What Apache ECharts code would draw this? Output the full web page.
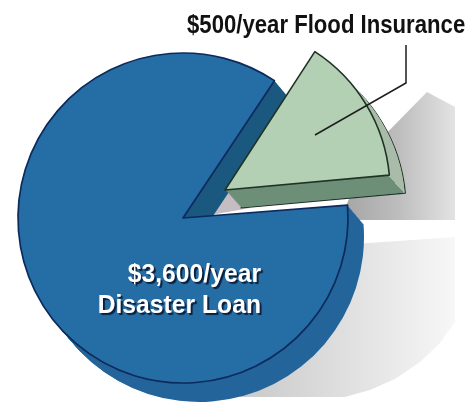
<!DOCTYPE html>
<html>
<head>
<meta charset="utf-8">
<style>html,body{margin:0;padding:0;background:#fff}#c{width:473px;height:403px}</style>
<script src="https://cdn.jsdelivr.net/npm/echarts@6/dist/echarts.min.js"></script>
</head>
<body>
<div id="c"></div>
<script>
// Printed amounts, used for the label text
var categories = ['Disaster Loan', 'Flood Insurance'];
var printedValues = [3600, 500];
// Share of the circle each slice occupies as drawn in the picture (percent)
var drawnShares = [85.6, 14.4];

var chart = echarts.init(document.getElementById('c'), null, {renderer: 'canvas'});
var DEPTH = 24, R = 165;

function money(v){ return '$' + v.toLocaleString('en-US') + '/year'; }
var hidden = {color: 'transparent', borderWidth: 0};

function pie(center, start, items, z){
  return {type: 'pie', silent: true, animation: false, radius: [0, R], center: center,
          startAngle: start, clockwise: true, label: {show: false}, labelLine: {show: false},
          emphasis: {disabled: true}, z: z, data: items};
}
function blue(style){
  return [{name: categories[0], value: drawnShares[0], itemStyle: style},
          {name: 'gap', value: drawnShares[1], itemStyle: hidden}];
}
function green(style){
  return [{name: categories[1], value: drawnShares[1], itemStyle: style},
          {name: 'gap', value: drawnShares[0], itemStyle: hidden}];
}
function linear(x, y, x2, y2, c1, c2, at){
  return {type: 'linear', global: true, x: x, y: y, x2: x2, y2: y2,
    colorStops: [{offset: 0, color: c1}, {offset: at, color: c1}, {offset: at, color: c2}, {offset: 1, color: c2}]};
}

var blueC = [183, 218], greenC = [225, 190], off = [16, 19];
var blueWall = linear(170, 54, 196, 382, '#1b5880', '#23659a', 0.5);
var greenWall = linear(297, 254, 477, 94, '#6d8f78', '#a9bca9', 0.5);
var series = [];
for (var i = DEPTH; i >= 1; i--) {
  var t = i / DEPTH;
  series.push(pie([blueC[0] + off[0] * t, blueC[1] + off[1] * t], 4.5,
    blue({color: blueWall, borderWidth: 0}), 2));
}
series.push(pie(blueC, 4.5, blue({color: '#256ea5', borderColor: '#0d2a5c', borderWidth: 1.7}), 3));
series.push(pie([greenC[0] + off[0], greenC[1] + off[1] - 1], 57,
  green({color: greenWall, borderColor: '#22352a', borderWidth: 1.2}), 4));
for (var j = DEPTH - 1; j >= 1; j--) {
  var u = j / DEPTH;
  series.push(pie([greenC[0] + off[0] * u, greenC[1] + (off[1] - 1) * u], 57,
    green({color: greenWall, borderWidth: 0}), 4));
}
series.push(pie(greenC, 57, green({color: '#b4d0b4', borderColor: '#1f3325', borderWidth: 1.6}), 5));

var font = '"Liberation Sans",sans-serif';
chart.setOption({
  animation: false,
  backgroundColor: '#fff',
  series: series,
  graphic: [
    {type: 'polygon', z: 0, shape: {points: [[427, 92], [455, 107], [455, 220], [340, 220], [370, 150]]},
     style: {fill: {type: 'linear', global: true, x: 345, y: 0, x2: 460, y2: 0,
       colorStops: [{offset: 0, color: '#a6a6a6'}, {offset: 0.45, color: '#bcbcbc'}, {offset: 1, color: '#e6e6e6'}]}}},
    {type: 'polygon', z: 0, shape: {points: [[340, 245], [455, 237], [455, 322], [440, 343], [420, 362], [395, 379], [370, 390], [345, 397], [260, 397], [240, 397], [240, 300]]},
     style: {fill: {type: 'linear', global: true, x: 260, y: 0, x2: 460, y2: 0,
       colorStops: [{offset: 0, color: '#cdcdcd'}, {offset: 1, color: '#f8f8f8'}]}}},
    {type: 'polygon', z: 1, shape: {points: [[205, 216], [225, 188], [250, 208]]}, style: {fill: '#c6bdc2'}},
    {type: 'polyline', z: 50, shape: {points: [[315, 135], [406, 83], [406, 45]]},
     style: {stroke: '#1d1d1d', lineWidth: 1.5, fill: 'none'}},
    {type: 'text', z: 50, x: 187, y: 14, scaleX: 0.886, scaleY: 1,
     style: {text: money(printedValues[1]) + ' ' + categories[1], fill: '#111',
       font: 'bold 25px ' + font, textAlign: 'left', textVerticalAlign: 'top'}},
    {type: 'text', z: 50, x: 261, y: 259, scaleX: 0.95, scaleY: 1,
     style: {text: money(printedValues[0]) + '\n' + categories[0], fill: '#fff',
       font: 'bold 26px ' + font, lineHeight: 31, align: 'right',
       textAlign: 'right', textShadowColor: '#0b1f3c', textShadowBlur: 1,
       textShadowOffsetX: 2, textShadowOffsetY: 2}}
  ]
});
</script>
</body>
</html>
